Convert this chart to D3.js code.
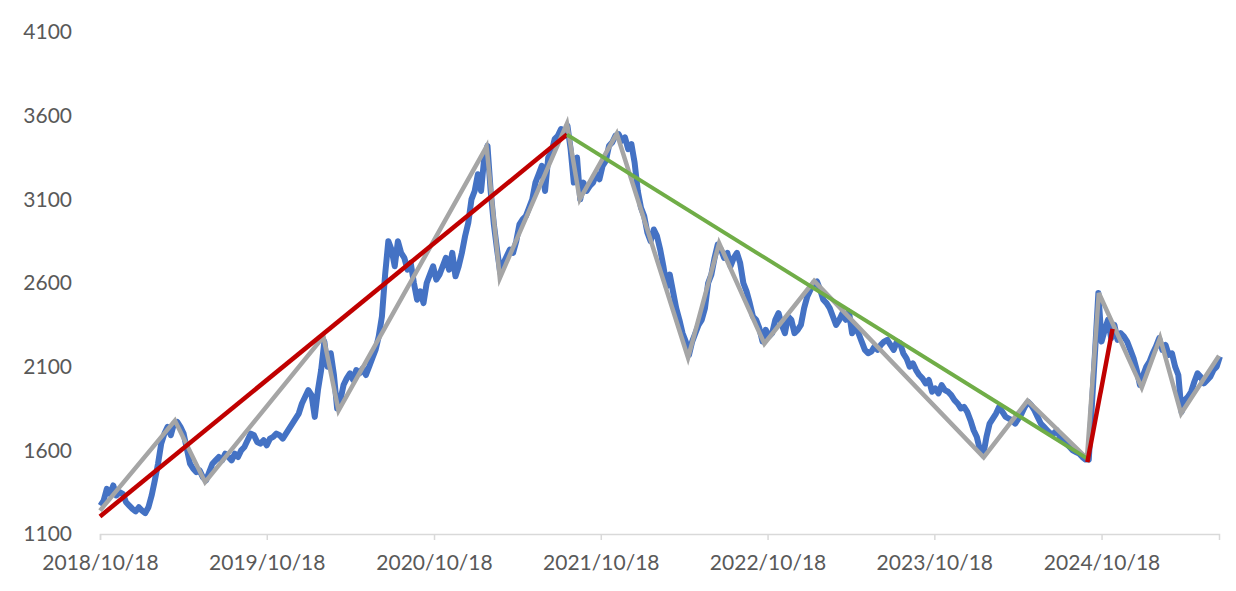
<!DOCTYPE html>
<html><head><meta charset="utf-8">
<script src="https://cdn.jsdelivr.net/npm/d3@7"></script>
<style>body{margin:0;background:#fff} svg{display:block}</style>
</head><body>
<svg id="chart" width="1236" height="591"></svg>
<script>
// ---- data (weekly closes, Fridays starting 2018-10-19) ----
const seriesStart = "2018-10-19";
const idx2018 = [1270,1300, 1370,1340,1390,1330,1350, 1340,1290,1270,1250];
const idx2019 = [1235,1260,1240,1225, 1260,1330,1420,1520, 1640,1700,1740,1690,1760, 1770,1740,1700,1610,
  1520,1490,1470,1480,1440, 1420,1470,1520,1540, 1560,1540,1580,1560, 1540,1580,1560,1600,1620,
  1660,1700,1690,1650, 1640,1660,1630,1670, 1680,1700,1690,1670,1700, 1730,1760,1790,1820];
const idx2020 = [1880,1920,1960,1930,1800, 1960,2080,2250,2100, 2180,2050,1850,1900, 1990,2030,2060,2020,
  2080,2060,2090,2050,2100, 2150,2200,2280,2400, 2650,2850,2800,2700,2850, 2780,2750,2680,2720,
  2600,2500,2550,2480, 2600,2650,2700,2620,2650, 2700,2750,2680,2780, 2640,2700,2780,2880];
const idx2021 = [2960,3100,3150,3250,3150, 3350,3420,3150,2950, 2800,2660,2720,2760, 2800,2780,2850,2950,2980,
  3000,3050,3100,3200, 3250,3300,3150,3350, 3380,3460,3480,3520,3480, 3540,3400,3200,3350,
  3100,3200,3150,3180, 3200,3250,3220,3300,3330, 3420,3440,3480,3490, 3450,3470,3400,3430,3320];
const idx2022 = [3150,3050,3000,2900, 2850,2920,2880,2800, 2700,2580,2650,2550, 2450,2380,2300,2250,2170,
  2250,2300,2350,2380, 2450,2600,2650,2750, 2830,2800,2750,2780,2700, 2750,2780,2720,2600,
  2550,2480,2400,2380,2330, 2250,2320,2280,2300, 2380,2420,2350,2300, 2400,2380,2300,2320,2350];
const idx2023 = [2450,2520,2560,2600, 2610,2560,2500,2480, 2450,2400,2350,2380,2420, 2380,2430,2300,2340,
  2300,2250,2200,2180, 2190,2220,2200,2230,2250, 2260,2230,2200,2250, 2240,2180,2150,2100,
  2120,2080,2050,2030,2000, 2020,1950,1970,1940, 1990,1960,1950,1930, 1900,1880,1850,1860,1830];
const idx2024 = [1780,1720,1680,1600, 1570,1680,1760,1790, 1820,1860,1830,1800,1790, 1780,1760,1790,1820,
  1860,1890,1870,1840,1800, 1760,1740,1720,1700, 1700,1720,1680,1660, 1640,1620,1600,1590,1580,
  1560,1545,1545,1880, 2200,2540,2250,2320, 2380,2270,2350,2260,2300, 2280,2250,2200,2150];
const idx2025 = [2080,1990,2050,2100,2130, 2180,2220,2270,2200, 2230,2170,2180,2100, 2050,1830,1900,1920,
  1950,2010,2060,2040,2000, 2020,2040,2080,2100, 2160];

const zigzagDates = ["2018-10-18","2019-03-31","2019-06-05","2020-02-19","2020-03-23","2021-02-10","2021-03-11",
  "2021-08-05","2021-09-02","2021-11-22","2022-04-27","2022-07-04","2022-10-11","2023-01-28","2024-02-03",
  "2024-05-09","2024-09-16","2024-10-12","2025-01-14","2025-02-23","2025-04-10","2025-07-02"];
const zigzagValues = [1240,1778,1410,2280,1838,3415,2629,3552,3100,3493,2153,2838,2237,2612,1558,
  1897,1552,2540,1975,2272,1820,2165];

const upTrendDates = ["2018-10-18","2021-08-05"];
const upTrendValues = [1205,3487];
const downTrendDates = ["2021-08-05","2024-09-16"];
const downTrendValues = [3487,1552];
const reboundDates = ["2024-09-17","2024-11-11"];
const reboundValues = [1530,2326];

const yTicks = [1100,1600,2100,2600,3100,3600,4100];
const xTickDates = ["2018-10-18","2019-10-18","2020-10-18","2021-10-18","2022-10-18","2023-10-18","2024-10-18"];
const xTickLabels = ["2018/10/18","2019/10/18","2020/10/18","2021/10/18","2022/10/18","2023/10/18","2024/10/18"];
const xDomain = ["2018-10-18","2025-07-02"];

// ---- drawing ----
const parse = d3.utcParse("%Y-%m-%d");
const svg = d3.select("#chart");
const x = d3.scaleUtc().domain(xDomain.map(parse)).range([100,1219]);
const y = d3.scaleLinear().domain([1100,4100]).range([534,32]);

const values = [].concat(idx2018,idx2019,idx2020,idx2021,idx2022,idx2023,idx2024,idx2025);
const t0 = parse(seriesStart);
const blue = values.map((v,i)=>({d:d3.utcDay.offset(t0,7*i), v}));
const pairs = (ds,vs)=>ds.map((d,i)=>({d:parse(d), v:vs[i]}));

const line = d3.line().x(p=>x(p.d)).y(p=>y(p.v));

// axes
const xAxis = svg.append("g").attr("transform","translate(0,534)")
  .call(d3.axisBottom(x).tickValues(xTickDates.map(parse)).tickFormat((d,i)=>xTickLabels[i]).tickSize(6).tickPadding(15));
xAxis.select(".domain").attr("stroke","#D9D9D9").attr("stroke-width",1.5);
xAxis.selectAll(".tick line").attr("stroke","#D9D9D9").attr("stroke-width",1.5);
xAxis.selectAll("text").attr("font-family","Lato").attr("font-size",21).attr("fill","#595959");

const yAxis = svg.append("g").attr("transform","translate(100,0)")
  .call(d3.axisLeft(y).tickValues(yTicks).tickFormat(d3.format("d")).tickSize(0).tickPadding(28));
yAxis.select(".domain").remove();
yAxis.selectAll("text").attr("font-family","Lato").attr("font-size",21).attr("fill","#595959");

// series
svg.append("path").datum(blue).attr("d",line).attr("fill","none")
  .attr("stroke","#4472C4").attr("stroke-width",6).attr("stroke-linejoin","round");
svg.append("path").datum(pairs(zigzagDates,zigzagValues)).attr("d",line).attr("fill","none")
  .attr("stroke","#A5A5A5").attr("stroke-width",4.5).attr("stroke-linejoin","miter");
svg.append("path").datum(pairs(upTrendDates,upTrendValues)).attr("d",line).attr("fill","none")
  .attr("stroke","#C00000").attr("stroke-width",4.5);
svg.append("path").datum(pairs(downTrendDates,downTrendValues)).attr("d",line).attr("fill","none")
  .attr("stroke","#70AD47").attr("stroke-width",4);
svg.append("path").datum(pairs(reboundDates,reboundValues)).attr("d",line).attr("fill","none")
  .attr("stroke","#C00000").attr("stroke-width",4.5);
</script>
</body></html>
